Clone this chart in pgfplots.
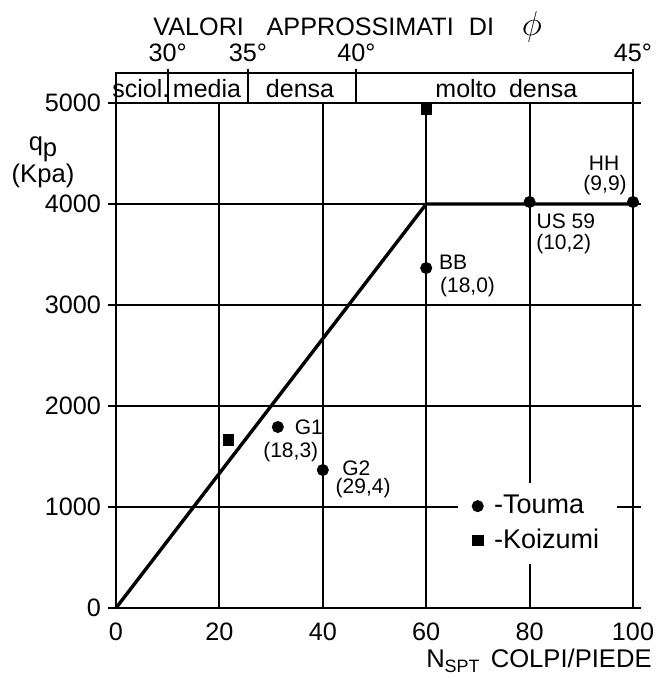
\documentclass[border=0pt]{standalone}
\usepackage{fontspec}
\setmainfont{Liberation Sans}
\usepackage{pgfplots}
\pgfplotsset{compat=1.18}

\begin{document}
\begin{tikzpicture}
\begin{axis}[name=main, scale only axis, width=258.5pt, height=252.5pt,
  xmin=0, xmax=100, ymin=0, ymax=5000,
  xtick={0,20,...,100}, ytick={0,1000,...,5000},
  grid=major, major grid style={black, line width=1pt},
  axis line style={line width=1pt},
  every tick/.style={black, line width=1pt},
  tick align=outside, major tick length=4pt,
  xtick style={draw=none},
  /pgf/number format/assume math mode=true,
  /pgf/number format/1000 sep={},
  ticklabel style={font=\fontsize{12.6}{14}\selectfont},
  clip=false,
  legend image code/.code={\draw[#1] plot coordinates {(0cm,0cm)};},
  legend style={draw=none, fill=white, at={(axis cs:66.1,1238)}, anchor=north west,
    font=\fontsize{13.5}{15}\selectfont, inner xsep=7pt, inner ysep=4pt, row sep=2pt},
  legend cell align=left,
]
\addplot[black, line width=1.7pt, forget plot] coordinates {(0,0) (60,4000) (100,4000)};
\addplot[only marks, mark=*, mark size=2.8pt, black] coordinates {
  (31.3,1792) (40,1366) (60,3366) (80,4020) (100,4020)};
\addlegendentry{\hspace{0.25em}-Touma}
\addplot[only marks, mark=square*, mark size=2.6pt, black] coordinates {
  (21.7,1663) (60,4940)};
\addlegendentry{\hspace{0.25em}-Koizumi}

\begin{scope}[every node/.style={font=\fontsize{10.5}{12}\selectfont, inner sep=0pt}]
\node at (axis cs:37.3,1792) {G1};
\node at (axis cs:33.8,1545) {(18,3)};
\node at (axis cs:46.5,1386) {G2};
\node at (axis cs:47.8,1188) {(29,4)};
\node at (axis cs:65.2,3426) {BB};
\node at (axis cs:68.0,3178) {(18,0)};
\node at (axis cs:87.0,3832) {US 59};
\node at (axis cs:86.6,3604) {(10,2)};
\node at (axis cs:94.4,4406) {HH};
\node at (axis cs:94.6,4188) {(9,9)};
\end{scope}

\node[align=center, font=\fontsize{12.8}{14.5}\selectfont, inner sep=0pt]
  at (axis description cs:0,0.883) [xshift=-36.5pt] {q\raisebox{-0.45ex}{p}\\(Kpa)};
\node[anchor=base east, inner sep=0pt, font=\fontsize{12.8}{14}\selectfont]
  at (axis description cs:1,0) [xshift=9.5pt, yshift=-30pt]
  {N\textsubscript{SPT}\hspace{0.4em}COLPI/PIEDE};
\end{axis}

\begin{axis}[scale only axis, width=258.5pt, height=267.65pt,
  xmin=0, xmax=100, ymin=0, ymax=5300,
  ytick=\empty,
  xtick={10,25.5,46.5,100}, xticklabels={30°,35°,40°,45°},
  xtick pos=right, xticklabel pos=right,
  tick align=outside, major tick length=2pt,
  axis line style={line width=1pt},
  every tick/.style={black, line width=1pt},
  ticklabel style={font=\fontsize{12.6}{14}\selectfont},
  clip=false,
]
\addplot[black, line width=1pt] coordinates {(10,5000) (10,5300)};
\addplot[black, line width=1pt] coordinates {(25.5,5000) (25.5,5300)};
\addplot[black, line width=1pt] coordinates {(46.5,5000) (46.5,5300)};

\begin{scope}[every node/.style={font=\fontsize{12.5}{14}\selectfont, inner sep=0pt, anchor=base}]
\node at (axis cs:4.8,5050) {sciol.};
\node at (axis cs:17.6,5050) {media};
\node at (axis cs:35.6,5050) {densa};
\node at (axis cs:75.5,5050) {molto\hspace{0.5em}densa};
\end{scope}

\node[anchor=base west, inner sep=0pt, font=\fontsize{12.6}{14}\selectfont]
  at (axis description cs:0.0716,1) [yshift=18.5pt]
  {VALORI\hspace{0.9em}APPROSSIMATI\hspace{0.6em}DI\hspace{1.1em}{\fontsize{16}{16}\selectfont$\phi$}};
\end{axis}

\path (-58pt,-35.5pt) rectangle (272pt,304pt);
\end{tikzpicture}
\end{document}
